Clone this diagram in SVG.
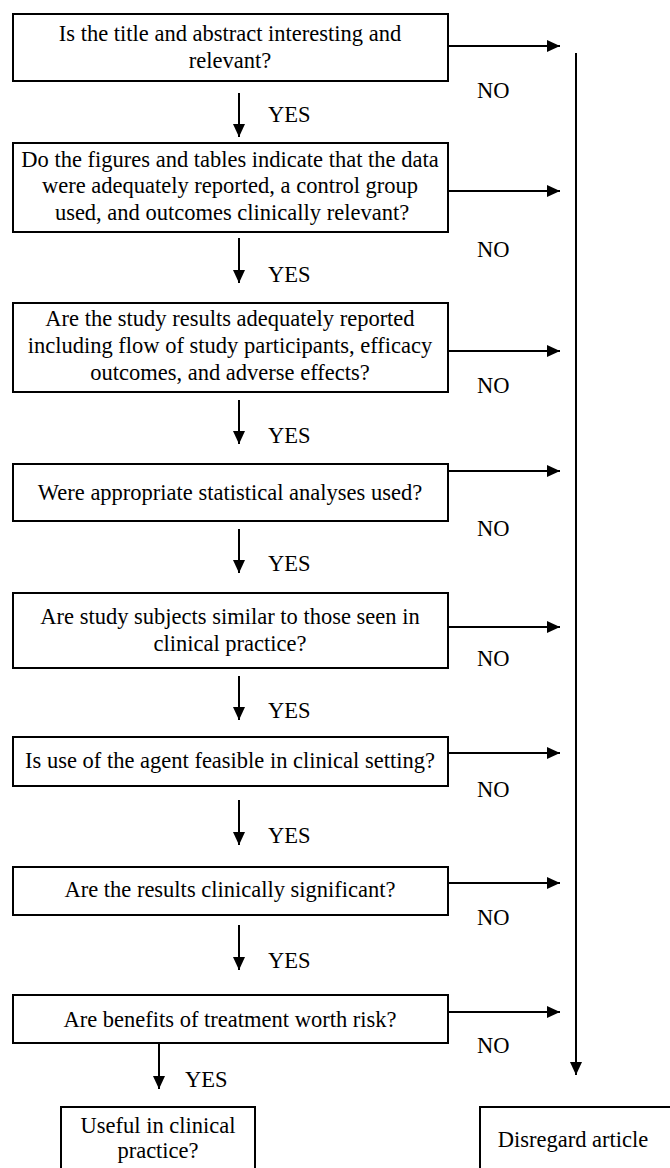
<svg xmlns="http://www.w3.org/2000/svg" width="670" height="1168" viewBox="0 0 670 1168" font-family="'Liberation Serif', 'Times New Roman', serif" font-size="22.5">
<defs>
<style>
.box{fill:#fff;stroke:#000;stroke-width:2}
.t{fill:#000;text-anchor:middle;font-family:'Liberation Serif','Times New Roman',serif;font-size:22.5px}
.l{fill:#000;font-family:'Liberation Serif','Times New Roman',serif;font-size:22.5px}
.c{stroke:#000;stroke-width:2;fill:none;marker-end:url(#ah)}
</style>
<marker id="ah" markerUnits="userSpaceOnUse" markerWidth="14" markerHeight="14" viewBox="0 0 14 14" refX="13" refY="7" orient="auto">
<path d="M0,1 L13,7 L0,13 Z" fill="#000"/>
</marker>
</defs>
<rect width="670" height="1168" fill="#fff"/>
<g id="connectors">
<line class="c" x1="448" y1="46" x2="560" y2="46"/>
<line class="c" x1="448" y1="191" x2="560" y2="191"/>
<line class="c" x1="448" y1="351" x2="560" y2="351"/>
<line class="c" x1="448" y1="471" x2="560" y2="471"/>
<line class="c" x1="448" y1="627" x2="560" y2="627"/>
<line class="c" x1="448" y1="753" x2="560" y2="753"/>
<line class="c" x1="448" y1="883" x2="560" y2="883"/>
<line class="c" x1="448" y1="1012" x2="560" y2="1012"/>
<line class="c" x1="576" y1="53" x2="576" y2="1075"/>
<line class="c" x1="239" y1="93" x2="239" y2="137"/>
<line class="c" x1="239" y1="238" x2="239" y2="283"/>
<line class="c" x1="239" y1="400" x2="239" y2="444"/>
<line class="c" x1="239" y1="529" x2="239" y2="573"/>
<line class="c" x1="239" y1="676" x2="239" y2="720"/>
<line class="c" x1="239" y1="800" x2="239" y2="845"/>
<line class="c" x1="239" y1="925" x2="239" y2="970"/>
<line class="c" x1="159" y1="1043" x2="159" y2="1089"/>
<text class="l" x="268" y="122">YES</text>
<text class="l" x="268" y="282">YES</text>
<text class="l" x="268" y="443">YES</text>
<text class="l" x="268" y="571">YES</text>
<text class="l" x="268" y="718">YES</text>
<text class="l" x="268" y="843">YES</text>
<text class="l" x="268" y="968">YES</text>
<text class="l" x="185" y="1087">YES</text>
<text class="l" x="477" y="98">NO</text>
<text class="l" x="477" y="257">NO</text>
<text class="l" x="477" y="393">NO</text>
<text class="l" x="477" y="536">NO</text>
<text class="l" x="477" y="666">NO</text>
<text class="l" x="477" y="797">NO</text>
<text class="l" x="477" y="925">NO</text>
<text class="l" x="477" y="1053">NO</text>
</g>
<g id="n1"><rect class="box" x="13" y="14" width="435" height="67"/>
<text class="t" x="230" y="41">Is the title and abstract interesting and</text>
<text class="t" x="230" y="68">relevant?</text></g>
<g id="n2"><rect class="box" x="13" y="143" width="435" height="89"/>
<text class="t" x="230" y="167">Do the figures and tables indicate that the data</text>
<text class="t" x="230" y="193">were adequately reported, a control group</text>
<text class="t" x="232" y="220">used, and outcomes clinically relevant?</text></g>
<g id="n3"><rect class="box" x="13" y="303" width="435" height="89"/>
<text class="t" x="230" y="326">Are the study results adequately reported</text>
<text class="t" x="230" y="353">including flow of study participants, efficacy</text>
<text class="t" x="230" y="380">outcomes, and adverse effects?</text></g>
<g id="n4"><rect class="box" x="13" y="464" width="435" height="57"/>
<text class="t" x="230" y="500">Were appropriate statistical analyses used?</text></g>
<g id="n5"><rect class="box" x="13" y="593" width="435" height="75"/>
<text class="t" x="230" y="624">Are study subjects similar to those seen in</text>
<text class="t" x="230" y="651">clinical practice?</text></g>
<g id="n6"><rect class="box" x="13" y="737" width="435" height="49"/>
<text class="t" x="230" y="768">Is use of the agent feasible in clinical setting?</text></g>
<g id="n7"><rect class="box" x="13" y="867" width="435" height="48"/>
<text class="t" x="230" y="897">Are the results clinically significant?</text></g>
<g id="n8"><rect class="box" x="13" y="995" width="435" height="48"/>
<text class="t" x="230" y="1027">Are benefits of treatment worth risk?</text></g>
<g id="n9"><rect class="box" x="61" y="1107" width="194" height="70"/>
<text class="t" x="158" y="1133">Useful in clinical</text>
<text class="t" x="158" y="1158">practice?</text></g>
<g id="n10"><rect class="box" x="480" y="1107" width="200" height="70"/>
<text class="t" x="573" y="1147">Disregard article</text></g>
</svg>
